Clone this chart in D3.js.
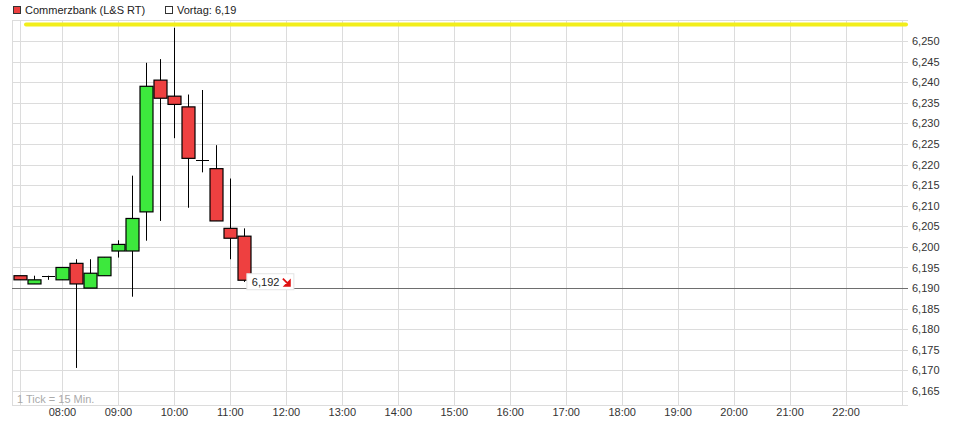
<!DOCTYPE html>
<html>
<head>
<meta charset="utf-8">
<script src="https://cdn.jsdelivr.net/npm/d3@7"></script>
<style>
  body { margin: 0; background: #fff; }
  svg { display: block; font-family: "Liberation Sans", Arial, sans-serif; }
</style>
</head>
<body>
<svg id="chart" width="957" height="424"></svg>
<script>
// Kerzen im 15-Minuten-Takt (Zeit in Stunden)
const times  = [7.25, 7.5, 7.75, 8, 8.25, 8.5, 8.75, 9, 9.25, 9.5, 9.75, 10, 10.25, 10.5, 10.75, 11, 11.25];
const opens  = [6.193, 6.191, 6.193, 6.192, 6.196, 6.190, 6.193, 6.199, 6.199, 6.2085, 6.2405, 6.2366, 6.234, 6.221, 6.219, 6.2045, 6.2026];
const highs  = [6.193, 6.193, 6.193, 6.195, 6.197, 6.197, 6.1975, 6.2016, 6.2173, 6.2447, 6.2456, 6.2532, 6.237, 6.2381, 6.2247, 6.2166, 6.2045];
const lows   = [6.192, 6.191, 6.192, 6.192, 6.1706, 6.190, 6.193, 6.1974, 6.1879, 6.2015, 6.2063, 6.2264, 6.2095, 6.2181, 6.2063, 6.197, 6.1915];
const closes = [6.192, 6.192, 6.193, 6.195, 6.191, 6.1936, 6.1975, 6.2006, 6.2069, 6.239, 6.2361, 6.2346, 6.2215, 6.221, 6.2063, 6.2021, 6.1919];

const priceTicks = d3.range(6.165, 6.2501, 0.005);
const hourTicks = d3.range(8, 23);           // 08:00 .. 22:00 beschriftet
const gridHours = [7.25].concat(d3.range(8, 24));
const prevClose = 6.19;
const lastPrice = 6.192;

const svg = d3.select("#chart");

// Plotbereich
const plotLeft = 12, plotRight = 908, plotTop = 20.5, plotBottom = 405;

const x = d3.scaleLinear().domain([7.25, 23]).range([20, 901.5]);
const y = d3.scaleLinear().domain([6.165, 6.250]).range([391, 41]);

const fmt = v => d3.format(".3f")(v).replace(".", ",");

// Gitter
const grid = svg.append("g").attr("stroke", "#dcdcdc").attr("stroke-width", 1);
grid.selectAll(".h")
  .data(priceTicks.concat([6.255]))
  .enter().append("line")
  .attr("x1", plotLeft).attr("x2", plotRight)
  .attr("y1", d => Math.round(y(d)) + 0.5)
  .attr("y2", d => Math.round(y(d)) + 0.5);
grid.selectAll(".v")
  .data(gridHours)
  .enter().append("line")
  .attr("y1", plotTop).attr("y2", plotBottom)
  .attr("x1", d => Math.round(x(d)) + 0.5)
  .attr("x2", d => Math.round(x(d)) + 0.5);

// Rahmen links und unten
svg.append("line").attr("x1", plotLeft + 0.5).attr("x2", plotLeft + 0.5).attr("y1", plotTop).attr("y2", plotBottom)
  .attr("stroke", "#dcdcdc");
svg.append("line").attr("x1", plotLeft).attr("x2", plotRight).attr("y1", plotBottom + 0.5).attr("y2", plotBottom + 0.5)
  .attr("stroke", "#dcdcdc");

// Vortageslinie
svg.append("line")
  .attr("x1", plotLeft).attr("x2", plotRight)
  .attr("y1", Math.round(y(prevClose)) + 0.5)
  .attr("y2", Math.round(y(prevClose)) + 0.5)
  .attr("stroke", "#6e6e6e");

// Hinweistext
svg.append("text")
  .attr("x", 17).attr("y", 403)
  .attr("font-size", 11).attr("fill", "#aaa")
  .text("1 Tick = 15 Min.");

// Kerzen
const candleW = 13;
const candles = svg.append("g");
times.forEach((t, i) => {
  const cx = Math.round(x(t)) + 0.5;
  candles.append("line")
    .attr("x1", cx).attr("x2", cx)
    .attr("y1", y(highs[i])).attr("y2", y(lows[i]))
    .attr("stroke", "#000");
  const o = opens[i], c = closes[i];
  const up = c > o, flat = Math.abs(c - o) < 0.0004;
  if (flat) {
    candles.append("line")
      .attr("x1", cx - candleW / 2).attr("x2", cx + candleW / 2)
      .attr("y1", Math.round(y(o)) + 0.5).attr("y2", Math.round(y(o)) + 0.5)
      .attr("stroke", "#000");
  } else {
    candles.append("rect")
      .attr("x", cx - candleW / 2)
      .attr("y", y(Math.max(o, c)))
      .attr("width", candleW)
      .attr("height", Math.abs(y(o) - y(c)))
      .attr("fill", up ? "#3de83d" : "#ee4040")
      .attr("stroke", "#000")
      .attr("stroke-width", 1.2);
  }
});

// Gelbe Markierung oben
const defs = svg.append("defs");
defs.append("filter").attr("id", "blur")
  .append("feGaussianBlur").attr("stdDeviation", 1);
svg.append("line")
  .attr("x1", 26).attr("x2", 906).attr("y1", 26.5).attr("y2", 26.5)
  .attr("stroke", "#8a8a60").attr("stroke-width", 3).attr("opacity", 0.6)
  .attr("filter", "url(#blur)");
svg.append("line")
  .attr("x1", 26).attr("x2", 906).attr("y1", 24.5).attr("y2", 24.5)
  .attr("stroke", "#f2ee1a").attr("stroke-width", 4).attr("stroke-linecap", "round");

// Kursachse rechts
const yAxis = svg.append("g")
  .attr("transform", `translate(${plotRight},0)`)
  .call(d3.axisRight(y).tickValues(priceTicks).tickSize(0).tickPadding(4).tickFormat(fmt));
yAxis.select(".domain").remove();
yAxis.selectAll("text").attr("font-size", 11).attr("fill", "#333")
  .attr("font-family", "Liberation Sans, Arial, sans-serif");

// Zeitachse
const xAxis = svg.append("g")
  .attr("transform", `translate(0,${plotBottom})`)
  .call(d3.axisBottom(x).tickValues(hourTicks).tickSize(0).tickPadding(3)
    .tickFormat(h => d3.format("02d")(h) + ":00"));
xAxis.select(".domain").remove();
xAxis.selectAll("text").attr("font-size", 11).attr("fill", "#333")
  .attr("font-family", "Liberation Sans, Arial, sans-serif");

// Letzter Kurs
const lastX = x(times[times.length - 1]) + 3;
const lastY = y(closes[closes.length - 1]);
const lab = svg.append("g").attr("transform", `translate(${lastX},${lastY + 1.5})`);
lab.append("rect")
  .attr("x", 0).attr("y", -8).attr("width", 47).attr("height", 16)
  .attr("fill", "#fff").attr("stroke", "#e4e4e4");
lab.append("text")
  .attr("x", 5).attr("y", 4)
  .attr("font-size", 11).attr("fill", "#222")
  .text(fmt(lastPrice));
lab.append("path")
  .attr("d", "M36,-3 L42,3 M43,-1 L43,4 L38,4 Z")
  .attr("stroke", "#e01010").attr("stroke-width", 1.8).attr("fill", "#e01010");

// Legende
const legend = svg.append("g").attr("font-size", 11).attr("fill", "#222");
legend.append("rect").attr("x", 13.5).attr("y", 6.5).attr("width", 7).attr("height", 7)
  .attr("fill", "#ee4040").attr("stroke", "#333");
legend.append("text").attr("x", 25).attr("y", 14).text("Commerzbank (L&S RT)");
legend.append("rect").attr("x", 165.5).attr("y", 6.5).attr("width", 7).attr("height", 7)
  .attr("fill", "#fff").attr("stroke", "#333");
legend.append("text").attr("x", 177).attr("y", 14).text("Vortag: " + d3.format(".2f")(prevClose).replace(".", ","));
</script>
</body>
</html>
